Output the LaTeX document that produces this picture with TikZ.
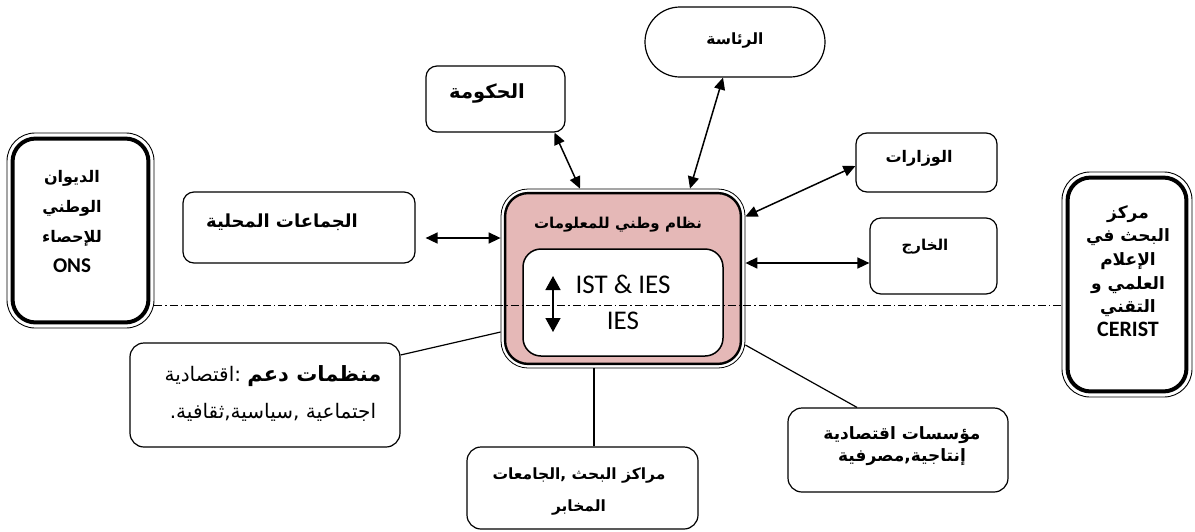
\documentclass[tikz,border=0pt]{standalone}
\usepackage{fontspec}
\usetikzlibrary{arrows.meta,calc}
\TeXXeTstate=1
\newfontfamily\arfont[Script=Arabic]{DejaVu Sans}
\newfontfamily\latfont{Carlito}
\definecolor{sysfill}{RGB}{229,184,183}
\newcommand\AR[1]{\beginR #1\endR}
\newcommand\arsize[2]{\fontsize{#1}{#2}\selectfont}

\tikzset{
  box/.style={draw, line width=1.2pt, inner sep=0pt, rounded corners=11pt},
  heavybox/.style={draw, line width=0.9pt, inner sep=0pt, rounded corners=28pt},
  lbl/.style={font=\arfont\bfseries\arsize{15}{18}, align=center, inner sep=0pt},
  latlbl/.style={font=\latfont\arsize{27}{30}, inner sep=0pt},
  dbl/.style={{Triangle[length=12pt,width=11pt]}-{Triangle[length=12pt,width=11pt]}, line width=1.5pt},
  link/.style={line width=1.2pt},
  axis/.style={line width=0.9pt, dash pattern=on 8pt off 3pt on 1.5pt off 3pt}
}

\begin{document}
\begin{tikzpicture}[x=1pt,y=-1pt]
\useasboundingbox (0,0) rectangle (1195,531);

% outer partner boxes
\node[box, rounded corners=35pt, minimum width=180pt, minimum height=70pt] (pres) at (735,42) {};
\node[lbl, font=\arfont\bfseries\arsize{15.5}{18}] (presT) at (735,40) {\AR{الرئاسة}};

\node[box, minimum width=139pt, minimum height=66pt] (gov) at (495.5,99) {};
\node[lbl, font=\arfont\bfseries\arsize{19.5}{22}] (govT) at (487,93) {\AR{الحكومة}};

\node[box, minimum width=141pt, minimum height=59pt] (mins) at (926.5,162.5) {};
\node[lbl, font=\arfont\bfseries\arsize{16}{18}] (minsT) at (919,158) {\AR{الوزارات}};

\node[box, minimum width=127pt, minimum height=76pt] (abroad) at (933.5,256) {};
\node[lbl] (abroadT) at (925,247) {\AR{الخارج}};

\node[box, minimum width=232pt, minimum height=71pt] (local) at (299,227.5) {};
\node[lbl, font=\arfont\bfseries\arsize{18}{20}] (localT) at (282,222) {\AR{الجماعات المحلية}};

\node[box, rounded corners=14pt, minimum width=270pt, minimum height=104pt] (supp) at (265,395) {};
\node[lbl, font=\arfont\mdseries\arsize{20}{37}] (suppT) at (273,393.5)
  {\AR{{\bfseries\arsize{21}{37}منظمات دعم} :اقتصادية}\\\AR{اجتماعية ,سياسية,ثقافية.}};

\node[box, rounded corners=14pt, minimum width=231pt, minimum height=82pt] (res) at (582.5,488) {};
\node[lbl, font=\arfont\bfseries\arsize{15.5}{32}] (resT) at (579,491)
  {\AR{مراكز البحث ,الجامعات}\\\AR{المخابر}};

\node[box, rounded corners=14pt, minimum width=220pt, minimum height=84pt] (eco) at (898,450) {};
\node[lbl, font=\arfont\bfseries\arsize{17}{22}] (ecoT) at (902,446)
  {\AR{مؤسسات اقتصادية}\\\AR{إنتاجية,مصرفية}};

% statistics office (left) and CERIST (right)
\node[heavybox, minimum width=147pt, minimum height=195pt] (ons) at (80.5,230.5) {};
\draw[line width=4pt, rounded corners=23pt]
  ([shift={(6pt,-6pt)}]ons.north west) rectangle ([shift={(-6pt,6pt)}]ons.south east);
\node[lbl, font=\arfont\bfseries\arsize{16}{30}] (onsT) at (72,221)
  {\AR{الديوان}\\\AR{الوطني}\\\AR{للإحصاء}\\{\latfont\bfseries\arsize{21}{30}ONS}};

\node[heavybox, minimum width=130pt, minimum height=225pt] (cer) at (1127,284.5) {};
\draw[line width=4pt, rounded corners=23pt]
  ([shift={(6pt,-6pt)}]cer.north west) rectangle ([shift={(-6pt,6pt)}]cer.south east);
\node[lbl, font=\arfont\bfseries\arsize{17}{23.6}] (cerT) at (1128,271)
  {\AR{مركز}\\\AR{البحث في}\\\AR{الإعلام}\\\AR{العلمي و}\\\AR{التقني}\\{\latfont\bfseries\arsize{22}{23.6}CERIST}};

% central national information system
\node[draw, line width=0.8pt, inner sep=0pt, rounded corners=27pt,
      minimum width=244pt, minimum height=179pt] (sys) at (623,278.5) {};
\draw[line width=2.4pt, fill=sysfill, rounded corners=23pt]
  ([shift={(4.5pt,-4.5pt)}]sys.north west) rectangle ([shift={(-4.5pt,4.5pt)}]sys.south east);
\node[lbl] (sysT) at (618,225) {\AR{نظام وطني للمعلومات}};
\node[draw, fill=white, line width=1.5pt, inner sep=0pt, rounded corners=18pt,
      minimum width=200pt, minimum height=107pt] (core) at (623,302.5) {};
\node[latlbl] (ist) at (623,284) {IST \& IES};
\node[latlbl] (ies) at (623,321) {IES};
\coordinate (up) at (553,276);
\coordinate (dn) at (553,332);
\draw[{Triangle[length=14pt,width=15pt]}-{Triangle[length=14pt,width=15pt]}, line width=1.5pt] (up) -- (dn);

% exchanges with the centre
\draw[dbl] ([xshift=59pt]gov.south) -- ([xshift=-43pt]sys.north);
\draw[dbl] ([xshift=-12pt]pres.south) -- ([xshift=67pt]sys.north);
\draw[dbl] ([yshift=-3.5pt]mins.west) -- ([yshift=62pt]sys.east);
\draw[dbl] ([yshift=-7pt]abroad.west) -- ([yshift=15.5pt]sys.east);
\draw[dbl] ([shift={(10pt,-10.5pt)}]local.east) -- ([yshift=40.5pt]sys.west);
\draw[link] ([yshift=40pt]supp.east) -- ([yshift=-53.5pt]sys.west);
\draw[link] ([xshift=11.5pt]res.north) -- ([xshift=-29pt]sys.south);
\draw[link] ([xshift=-41pt]eco.north) -- ([yshift=-66.5pt]sys.east);

% dash-dot axis
\draw[axis] ([yshift=-74.5pt]ons.east) -- ([yshift=-20.5pt]cer.west);
\end{tikzpicture}
\end{document}
